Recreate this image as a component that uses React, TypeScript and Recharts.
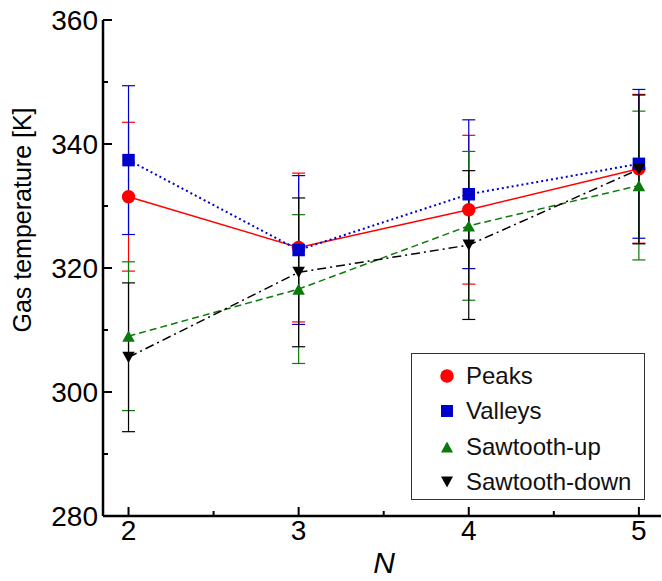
import {
  LineChart,
  Line,
  XAxis,
  YAxis,
  ErrorBar,
  Legend,
} from 'recharts';

const nValues = [2, 3, 4, 5];
const peaks = [331.5, 323.3, 329.4, 336.0];
const valleys = [337.4, 322.9, 331.9, 336.8];
const sawUp = [309.0, 316.6, 326.8, 333.3];
const sawDown = [305.6, 319.3, 323.7, 335.9];
const peaksErr = [12, 12, 12, 12];
const valleysErr = [12, 12, 12, 12];
const sawUpErr = [12, 12, 12, 12];
const sawDownErr = [12, 12, 12, 12];

const xTicks = [2, 2.5, 3, 3.5, 4, 4.5, 5];
const yTicks = [280, 290, 300, 310, 320, 330, 340, 350, 360];

const data = nValues.map((n, i) => ({
  n,
  peaks: peaks[i],
  valleys: valleys[i],
  sawUp: sawUp[i],
  sawDown: sawDown[i],
  peaksErr: peaksErr[i],
  valleysErr: valleysErr[i],
  sawUpErr: sawUpErr[i],
  sawDownErr: sawDownErr[i],
}));

const FONT = '"Liberation Sans", Arial, Helvetica, sans-serif';

type Marker = 'circle' | 'square' | 'up' | 'down';

const series: { key: string; err: string; name: string; color: string; dash?: string; width: number; marker: Marker }[] = [
  { key: 'peaks', err: 'peaksErr', name: 'Peaks', color: '#ff0000', width: 1.5, marker: 'circle' },
  { key: 'valleys', err: 'valleysErr', name: 'Valleys', color: '#0000cc', dash: '2 3', width: 2, marker: 'square' },
  { key: 'sawUp', err: 'sawUpErr', name: 'Sawtooth-up', color: '#0a7a0a', dash: '7 4', width: 1.5, marker: 'up' },
  { key: 'sawDown', err: 'sawDownErr', name: 'Sawtooth-down', color: '#000000', dash: '9 4 2 4', width: 1.5, marker: 'down' },
];

function markerShape(kind: Marker, cx: number, cy: number, color: string, s: number) {
  if (kind === 'circle') return <circle cx={cx} cy={cy} r={s * 0.52} fill={color} />;
  if (kind === 'square') return <rect x={cx - s / 2} y={cy - s / 2} width={s} height={s} fill={color} />;
  const h = s * 0.9;
  if (kind === 'up')
    return <polygon points={`${cx - s / 2},${cy + h / 2} ${cx + s / 2},${cy + h / 2} ${cx},${cy - h / 2}`} fill={color} />;
  return <polygon points={`${cx - s / 2},${cy - h / 2} ${cx + s / 2},${cy - h / 2} ${cx},${cy + h / 2}`} fill={color} />;
}

const isMajorX = (v: number) => Number.isInteger(v);
const isMajorY = (v: number) => v % 20 === 0;

const BottomTick = (props: any) => {
  const { x, y, payload } = props;
  const major = isMajorX(payload.value);
  return (
    <g>
      <line x1={x} y1={y} x2={x} y2={y - (major ? 9 : 5)} stroke="#000" strokeWidth={2} />
      {major && (
        <text x={x} y={y + 24} textAnchor="middle" fontSize={28} fontFamily={FONT} fill="#000">
          {payload.value}
        </text>
      )}
    </g>
  );
};

const TopTick = (props: any) => {
  const { x, y, payload } = props;
  const major = isMajorX(payload.value);
  return <line x1={x} y1={y} x2={x} y2={y + (major ? 9 : 5)} stroke="#000" strokeWidth={2} />;
};

const LeftTick = (props: any) => {
  const { x, y, payload } = props;
  const major = isMajorY(payload.value);
  return (
    <g>
      <line x1={x} y1={y} x2={x + (major ? 9 : 5)} y2={y} stroke="#000" strokeWidth={2} />
      {major && (
        <text x={x - 5} y={y + 10} textAnchor="end" fontSize={28} fontFamily={FONT} fill="#000">
          {payload.value}
        </text>
      )}
    </g>
  );
};

const RightTick = (props: any) => {
  const { x, y, payload } = props;
  const major = isMajorY(payload.value);
  return <line x1={x} y1={y} x2={x - (major ? 9 : 5)} y2={y} stroke="#000" strokeWidth={2} />;
};

const LegendBox = () => (
  <div
    style={{
      width: 234,
      height: 147,
      border: '1.5px solid #333',
      background: '#fff',
      boxSizing: 'border-box',
      paddingTop: 4,
      fontFamily: FONT,
    }}
  >
    {series.map((s) => (
      <div key={s.name} style={{ display: 'flex', alignItems: 'center', height: 35.5 }}>
        <svg width={54} height={20} style={{ flexShrink: 0 }}>
          {markerShape(s.marker, 35, 10, s.color, s.marker === 'circle' ? 13 : 12)}
        </svg>
        <span style={{ fontSize: 24, color: '#111' }}>{s.name}</span>
      </div>
    ))}
  </div>
);

export default function App() {
  return (
    <div style={{ position: 'absolute', left: 0, top: 0, background: '#fff' }}>
      <LineChart width={662} height={581} data={data} margin={{ top: 20, right: 1, left: 25, bottom: 5 }}>
        <XAxis
          xAxisId="bottom"
          dataKey="n"
          type="number"
          domain={[1.85, 5.13]}
          ticks={xTicks}
          allowDataOverflow
          height={60}
          tickSize={0}
          tickMargin={0}
          tickLine={false}
          tick={<BottomTick />}
          axisLine={{ stroke: '#000', strokeWidth: 2.5 }}
          label={{
            content: () => (
              <text x={384} y={573} textAnchor="middle" fontSize={30} fontStyle="italic" fontFamily={FONT} fill="#000">
                N
              </text>
            ),
          }}
        />
        <XAxis
          xAxisId="top"
          orientation="top"
          dataKey="n"
          type="number"
          domain={[1.85, 5.13]}
          ticks={xTicks}
          allowDataOverflow
          height={0}
          tickSize={0}
          tickMargin={0}
          tickLine={false}
          tick={<TopTick />}
          axisLine={{ stroke: '#000', strokeWidth: 2.5 }}
        />
        <YAxis
          yAxisId="left"
          type="number"
          domain={[280, 360]}
          ticks={yTicks}
          width={78}
          tickSize={0}
          tickMargin={0}
          tickLine={false}
          tick={<LeftTick />}
          axisLine={{ stroke: '#000', strokeWidth: 2.5 }}
          label={{
            content: () => (
              <text
                x={22}
                y={220}
                transform="rotate(-90 22 220)"
                textAnchor="middle"
                dominantBaseline="central"
                fontSize={25}
                fontFamily={FONT}
                fill="#000"
              >
                Gas temperature [K]
              </text>
            ),
          }}
        />
        <YAxis
          yAxisId="right"
          orientation="right"
          type="number"
          domain={[280, 360]}
          ticks={yTicks}
          width={0}
          tickSize={0}
          tickMargin={0}
          tickLine={false}
          tick={<RightTick />}
          axisLine={{ stroke: '#000', strokeWidth: 2.5 }}
        />
        <Legend
          layout="horizontal"
          align="center"
          verticalAlign="middle"
          content={<LegendBox />}
          wrapperStyle={{ position: 'absolute', left: 411, top: 353, width: 234, height: 147 }}
        />
        {series.map((s) => (
          <Line
            key={s.key}
            xAxisId="bottom"
            yAxisId="left"
            dataKey={s.key}
            name={s.name}
            stroke={s.color}
            strokeWidth={s.width}
            strokeDasharray={s.dash}
            isAnimationActive={false}
            dot={(p: any) => (
              <g key={`${s.key}-${p.index}`}>{markerShape(s.marker, p.cx, p.cy, s.color, s.marker === 'circle' ? 13 : 12.5)}</g>
            )}
            activeDot={false}
          >
            <ErrorBar dataKey={s.err} width={6.5} stroke={s.color} strokeWidth={1.2} direction="y" />
          </Line>
        ))}
      </LineChart>
    </div>
  );
}
